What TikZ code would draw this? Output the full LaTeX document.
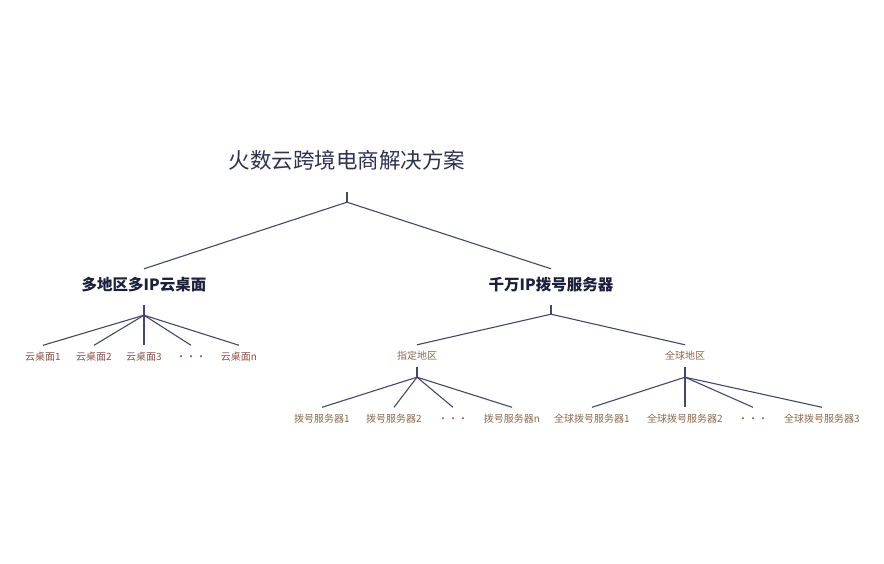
\documentclass[tikz,border=0pt]{standalone}
\usepackage{fontspec}
\setmainfont{Noto Sans CJK SC}
\usetikzlibrary{positioning}

\definecolor{titlecol}{HTML}{2E3150}
\definecolor{branchcol}{HTML}{1C1F3B}
\definecolor{linkcol}{HTML}{44476B}
\definecolor{deskcol}{HTML}{8E4F4A}
\definecolor{servercol}{HTML}{8A6B4E}

\newcommand{\threedots}{···}

\tikzset{
  lbl/.style={inner sep=0pt, text height=0.75em, text depth=0pt},
  titlebox/.style={lbl, font=\fontsize{21.5}{24}\selectfont, text=titlecol, minimum height=54pt},
  branchbox/.style={lbl, font=\bfseries\fontsize{15.5}{18}\selectfont, text=branchcol, minimum height=36pt},
  areabox/.style={lbl, font=\fontsize{10}{12}\selectfont, text=servercol, minimum height=22pt},
  deskbox/.style={lbl, font=\fontsize{10}{12}\selectfont, text=deskcol, minimum height=23pt},
  serverbox/.style={areabox, minimum height=23pt},
  link/.style={draw=linkcol, line width=1.1pt}
}

\begin{document}
\begin{tikzpicture}[x=1pt,y=1pt]
\useasboundingbox (0,0) rectangle (884,563);

 % Nodes

\node[titlebox] (root) at (347,398) {火数云跨境电商解决方案};
\coordinate[below=10pt of root] (root-hub);

\node[branchbox] (desk) at (144,276) {多地区多IP云桌面};
\node[branchbox] (dial) at (551,276) {千万IP拨号服务器};
\coordinate[below=10pt of desk] (desk-hub);
\coordinate[below=9pt of dial] (dial-hub);

\node[areabox] (fixed) at (417,207) {指定地区};
\node[areabox] (global) at (685,207) {全球地区};
\coordinate[below=10pt of fixed] (fixed-hub);
\coordinate[below=10pt of global] (global-hub);

\foreach \x/\t [count=\i] in {43/云桌面1, 94/云桌面2, 144/云桌面3, 191/\threedots, 239/云桌面n}
  \node[deskbox] (desk\i) at (\x,206) {\t};

\foreach \x/\t [count=\i] in {322/拨号服务器1, 394/拨号服务器2, 453/\threedots, 512/拨号服务器n}
  \node[serverbox] (fixed\i) at (\x,144) {\t};

\foreach \x/\t [count=\i] in {592/全球拨号服务器1, 685/全球拨号服务器2, 753/\threedots, 822/全球拨号服务器3}
  \node[serverbox] (global\i) at (\x,144) {\t};

% Connect nodes
\draw[link] (root.south) -- (root-hub);
\draw[link] (root-hub) -- (desk.north);
\draw[link] (root-hub) -- (dial.north);

\draw[link] (desk.south) -- (desk-hub);
\draw[link] (dial.south) -- (dial-hub);
\draw[link] (dial-hub) -- (fixed.north);
\draw[link] (dial-hub) -- (global.north);

\draw[link] (fixed.south) -- (fixed-hub);
\draw[link] (global.south) -- (global-hub);

\foreach \i in {1,...,5}
  \draw[link] (desk-hub) -- (desk\i.north);
\foreach \i in {1,...,4}
  \draw[link] (fixed-hub) -- (fixed\i.north);
\foreach \i in {1,...,4}
  \draw[link] (global-hub) -- (global\i.north);

\end{tikzpicture}
\end{document}
